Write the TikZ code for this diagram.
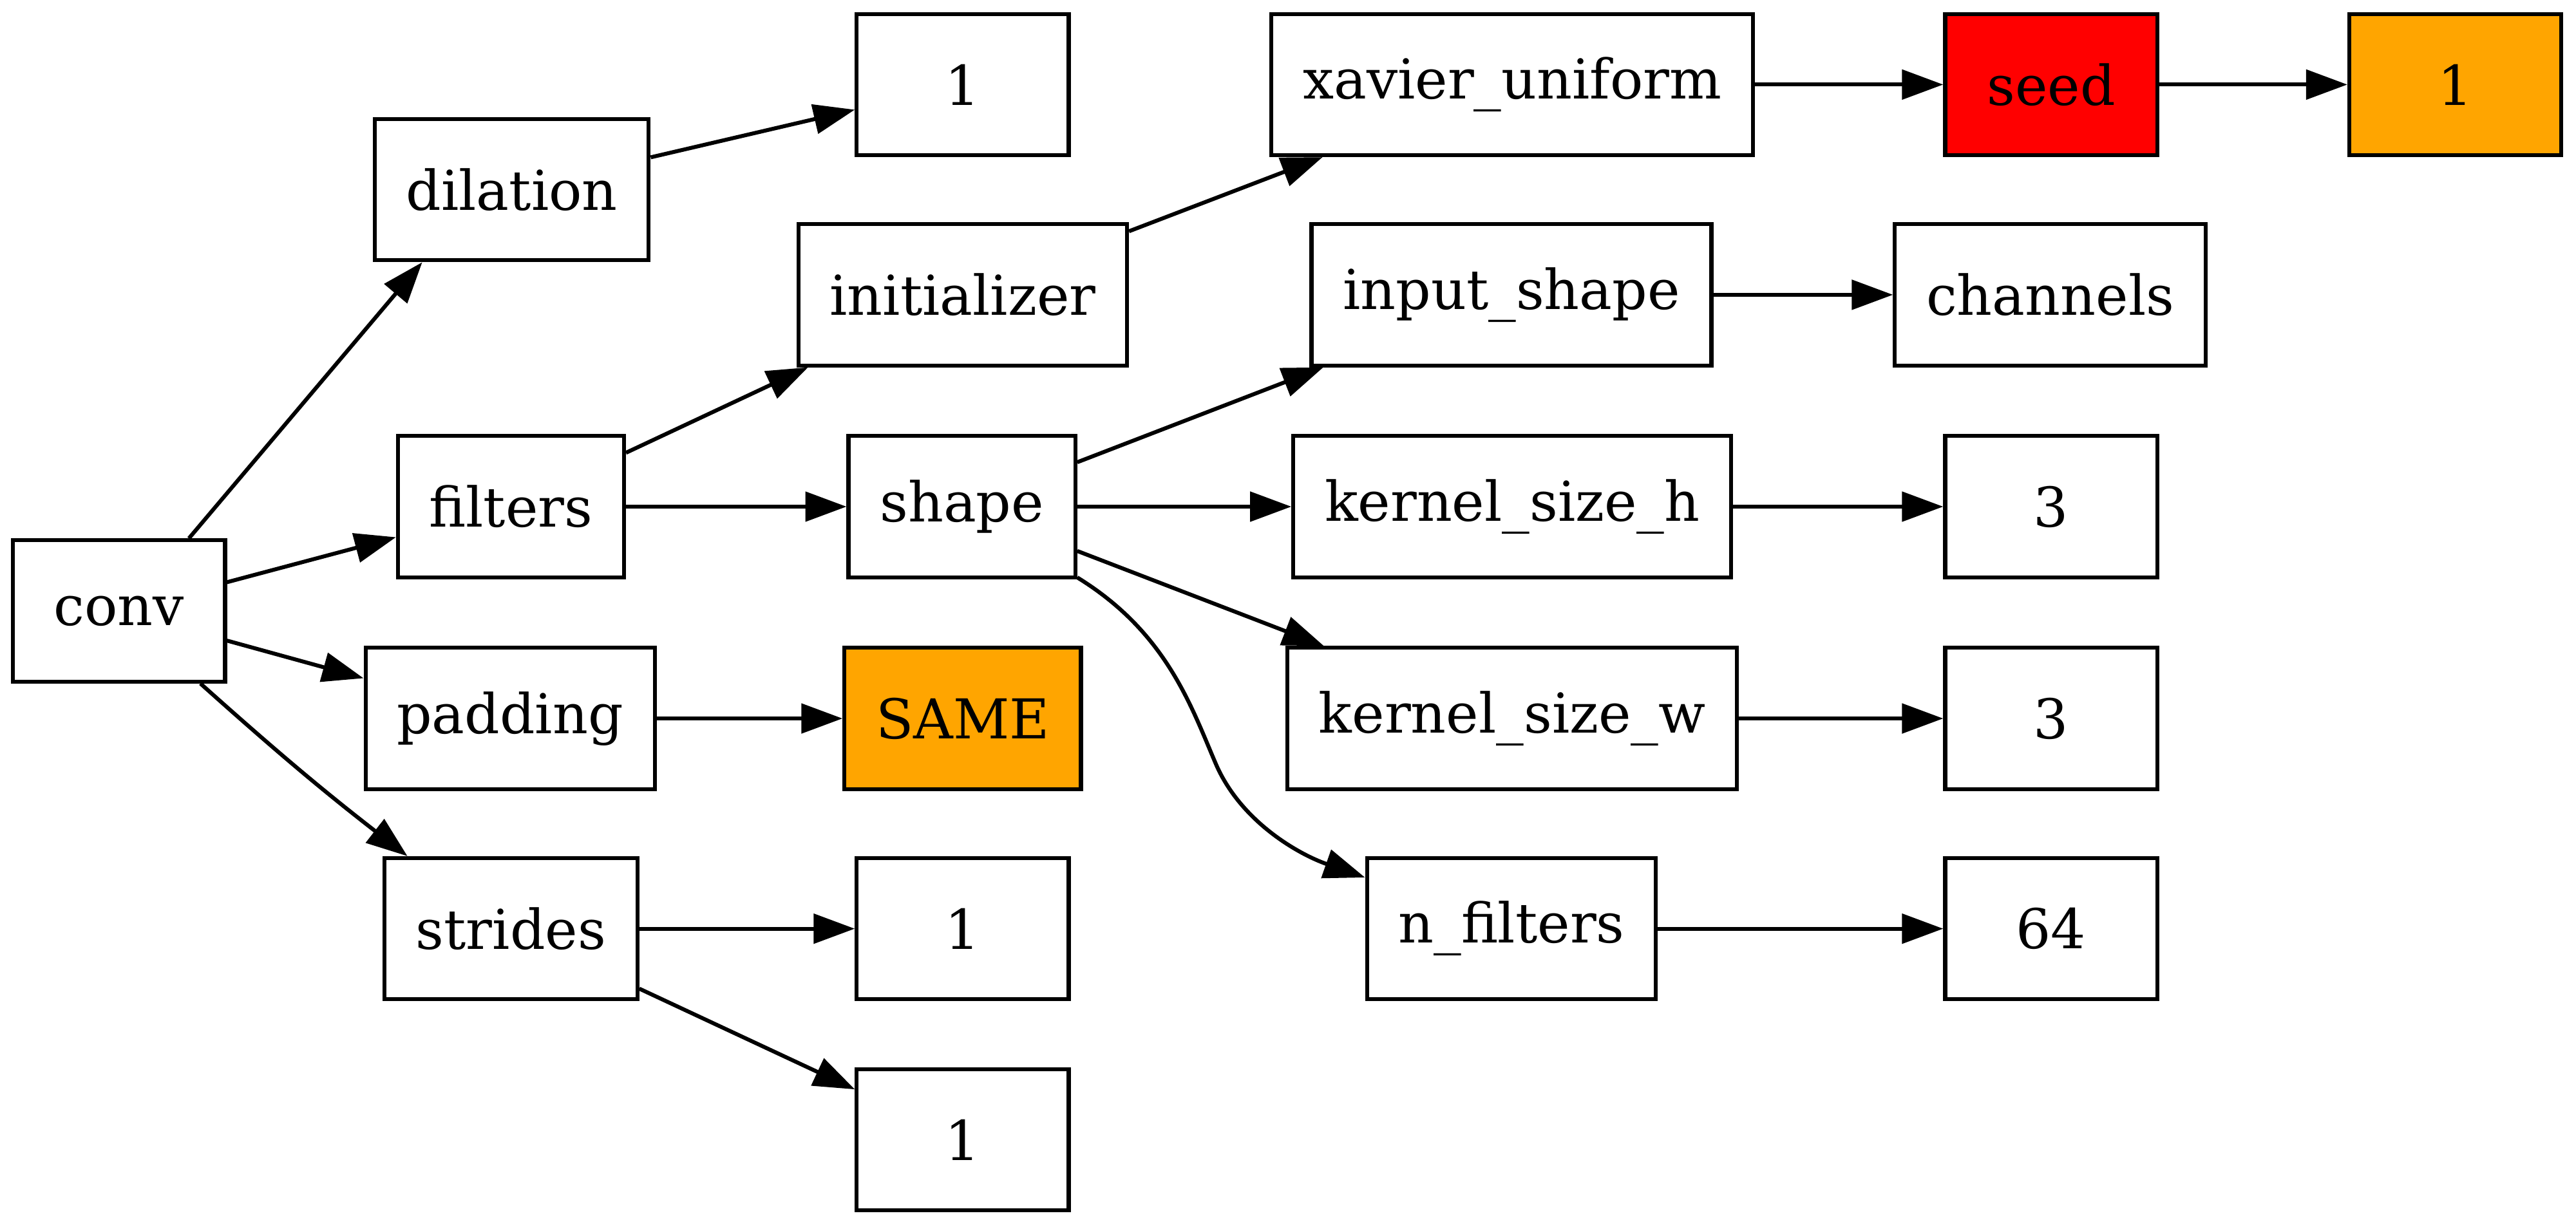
\documentclass[tikz,border=0pt]{standalone}
\usepackage{fontspec}
\setmainfont{DejaVu Serif}
\usepackage{xcolor}
\usepackage{tikz}
\usetikzlibrary{arrows.meta,calc}
\definecolor{gvred}{HTML}{FF0000}
\definecolor{gvorange}{HTML}{FFA500}

\begin{document}
\begin{tikzpicture}[x=0.4186pt,y=-0.4186pt,
  b/.style={draw,line width=1pt,minimum width=54pt,minimum height=36pt,
    inner xsep=8pt,inner ysep=4pt,font=\fontsize{14pt}{17pt}\selectfont},
  e/.style={-{Triangle[length=10.5pt,width=7.5pt]},line width=1pt}]
 \useasboundingbox (0,0) rectangle (1568,747);
 % nodes: name/text/x/y/fill
 \foreach \n/\t/\x/\y/\f in {
   conv/conv/72.5/372/white,
   dil/dilation/311.5/115.5/white,
   filt/filters/311/308.5/white,
   pad/padding/310.5/437.5/white,
   strd/strides/311/565.5/white,
   onea/1/586/51.5/white,
   init/initializer/586/179.5/white,
   shp/shape/585.5/308.5/white,
   same/SAME/586/437.5/gvorange,
   oneb/1/586/565.5/white,
   onec/1/586/694/white,
   xav/xavier\_uniform/920.5/51.5/white,
   inp/input\_shape/920/179.5/white,
   ksh/kernel\_size\_h/920.5/308.5/white,
   ksw/kernel\_size\_w/920.5/437.5/white,
   nfil/n\_filters/920/565.5/white,
   seed/seed/1248.5/51.5/gvred,
   chan/channels/1248/179.5/white,
   th/3/1248.5/308.5/white,
   tw/3/1248.5/437.5/white,
   sixf/64/1248.5/565.5/white,
   oned/1/1494.5/51.5/gvorange} {
   \node[b,fill=\f] (\n) at (\x,\y) {\t};
 }
 % edges out of conv
 \draw[e] ($(conv.north)+(42.5,0)$) -- ($(dil.south)+(-54.5,0)$);
 \draw[e] (conv) -- (filt);
 \draw[e] (conv) -- (pad);
 \draw[e] ($(conv.south)+(49.5,0)$) to[bend right=2] ($(strd.north)+(-63,0)$);
 % second column
 \draw[e] (dil) -- (onea);
 \draw[e] (filt) -- (init);
 \draw[e] (filt) -- (shp);
 \draw[e] (pad) -- (same);
 \draw[e] (strd) -- (oneb);
 \draw[e] (strd) -- (onec);
 % third column
 \draw[e] (init) -- (xav);
 \draw[e] (shp) -- (inp);
 \draw[e] (shp) -- (ksh);
 \draw[e] (shp) -- (ksw);
 \coordinate (mid) at (740,465);
 \draw[e] (shp) .. controls (710,385) and (725,430) .. (mid)
   .. controls (755,500) and (790,520) .. (nfil);
 % last columns
 \draw[e] (xav) -- (seed);
 \draw[e] (seed) -- (oned);
 \draw[e] (inp) -- (chan);
 \draw[e] (ksh) -- (th);
 \draw[e] (ksw) -- (tw);
 \draw[e] (nfil) -- (sixf);
\end{tikzpicture}
\end{document}
